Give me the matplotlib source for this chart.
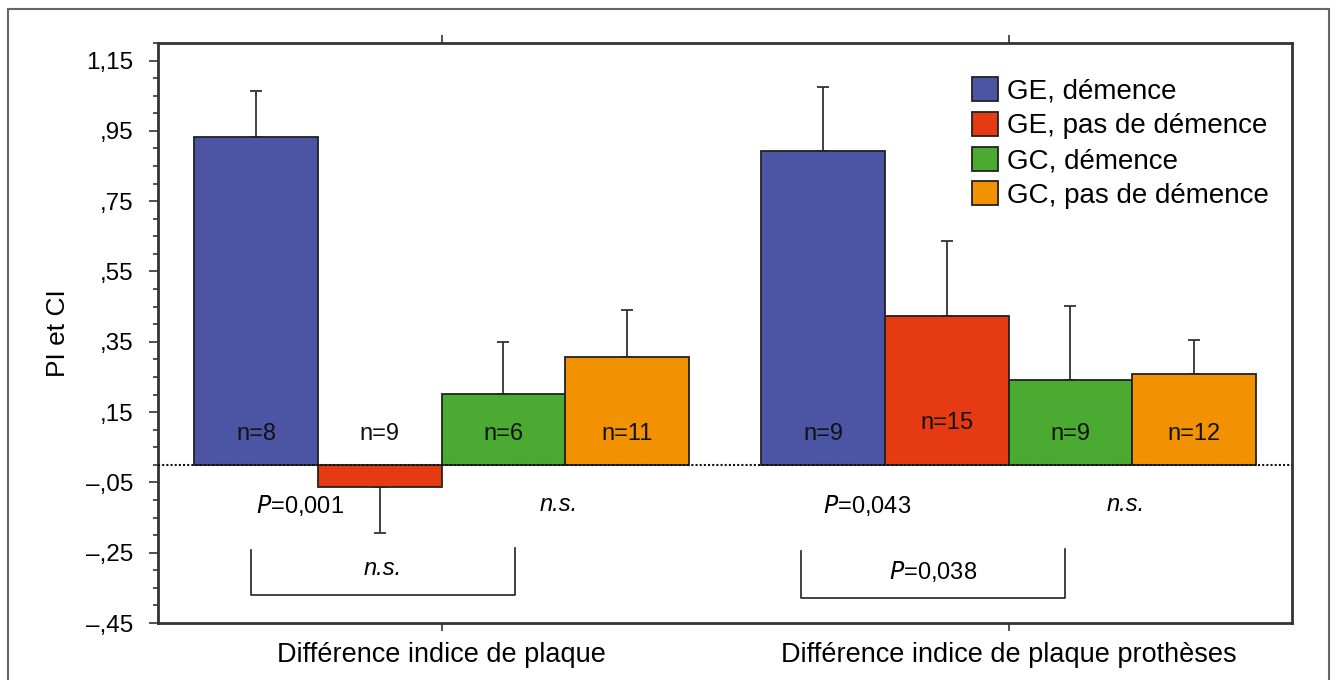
import numpy as np
import matplotlib.pyplot as plt
from matplotlib.patches import Patch, Rectangle

plt.rcParams['font.family'] = ['Liberation Sans', 'DejaVu Sans']

groups = ['Différence indice de plaque', 'Différence indice de plaque prothèses']
series = ['GE, démence', 'GE, pas de démence', 'GC, démence', 'GC, pas de démence']
colors = ['#4B55A4', '#E63A12', '#4BAA32', '#F39200']

# mean and upper/lower error per series, one value per group
means = [[0.933, 0.893],
         [-0.064, 0.424],
         [0.201, 0.241],
         [0.307, 0.259]]
errs = [[0.131, 0.183],
        [0.129, 0.212],
        [0.149, 0.212],
        [0.134, 0.097]]
n_labels = [['n=8', 'n=9'],
            ['n=9', 'n=15'],
            ['n=6', 'n=9'],
            ['n=11', 'n=12']]

yticks = [1.15, 0.95, 0.75, 0.55, 0.35, 0.15, -0.05, -0.25, -0.45]
ytick_labels = ['1,15', ',95', ',75', ',55', ',35', ',15', '–,05', '–,25', '–,45']

pair_tests = [('P=0,001', 'n.s.'), ('P=0,043', 'n.s.')]
bracket_tests = ['n.s.', 'P=0,038']


def fmt_p(s):
    if s.startswith('P'):
        return r'$\mathit{P}$' + s[1:]
    return s


fig = plt.figure(figsize=(13.36, 6.8), dpi=100)
ax = fig.add_axes([0.1183, 0.0838, 0.9487 - 0.1183 + 0.0185, 0.853])

x = np.arange(len(groups))
w = 0.218
offsets = [-1.5 * w, -0.5 * w, 0.5 * w, 1.5 * w]

for i in range(len(series)):
    xs = x + offsets[i]
    m = np.array(means[i])
    e = np.array(errs[i])
    ax.bar(xs, m, w, color=colors[i], edgecolor='#222222', linewidth=1.3, zorder=2)
    lower = np.where(m < 0, e, 0)
    upper = np.where(m >= 0, e, 0)
    ax.errorbar(xs, m, yerr=[lower, upper], fmt='none', ecolor='#333333',
                elinewidth=1.3, capsize=4, capthick=1.3, zorder=1)
    for j in range(len(groups)):
        yy = 0.119 if n_labels[i][j] == 'n=15' else 0.087
        ax.text(xs[j], yy, n_labels[i][j], ha='center', va='center', fontsize=17,
                color='#111111', zorder=3)

ax.axhline(0, color='#111111', linestyle=(0, (1, 1)), linewidth=1.5, zorder=3)

# P-values under the bars
for j in range(len(groups)):
    ax.text(x[j] - 0.25, -0.116, fmt_p(pair_tests[j][0]), ha='center', va='center', fontsize=17)
    ax.text(x[j] + 0.207, -0.112, pair_tests[j][1], ha='center', va='center', fontsize=17,
            style='italic')

# brackets
br_left = [-0.336, 0.634]
br_right = [0.130, 1.100]
br_top = [-0.241, -0.244]
br_bottom = [-0.370, -0.379]
for j in range(len(groups)):
    ax.plot([br_left[j], br_left[j], br_right[j], br_right[j]],
            [br_top[j], br_bottom[j], br_bottom[j], br_top[j] + 0.005],
            color='#222222', linewidth=1.2)
    lab = bracket_tests[j]
    ax.text((br_left[j] + br_right[j]) / 2, br_bottom[j] + 0.075, fmt_p(lab),
            ha='center', va='center', fontsize=17,
            style='italic' if lab == 'n.s.' else 'normal')

ax.set_xlim(-0.5, 1.5)
ax.set_ylim(-0.45, 1.20)
ax.set_yticks(yticks)
ax.set_yticklabels(ytick_labels)
ax.set_yticks(np.arange(-0.45, 1.201, 0.05), minor=True)
ax.set_xticks(x)
ax.set_xticklabels(groups)
ax.set_ylabel('PI et CI', fontsize=19)
ax.yaxis.set_label_coords(-0.078, 0.5)

ax.tick_params(axis='y', which='major', length=6.5, width=1.2, pad=11, labelsize=17.5,
               colors='#333333', labelcolor='black')
ax.tick_params(axis='y', which='minor', length=3.6, width=1.2, colors='#333333')
ax.tick_params(axis='x', which='major', length=6, width=1.2, top=True, labelsize=19.5, pad=8,
               colors='#333333', labelcolor='black')
for s in ax.spines.values():
    s.set_color('#333333')
    s.set_linewidth(2)

handles = [Patch(facecolor=c, edgecolor='#222222', linewidth=1.3) for c in colors]
ax.legend(handles, series, loc='upper left', bbox_to_anchor=(0.7055, 0.965), frameon=False,
          fontsize=20, handlelength=0.95, handleheight=0.95, handletextpad=0.3,
          labelspacing=0.26, borderpad=0)

# outer frame
fig.patches.append(Rectangle((7.5 / 1336, -0.05), (1329 - 7.5) / 1336, 1.05 - 9.5 / 680,
                             transform=fig.transFigure, fill=False, edgecolor='#666666',
                             linewidth=1.5))

fig.savefig('out.png', dpi=100)
